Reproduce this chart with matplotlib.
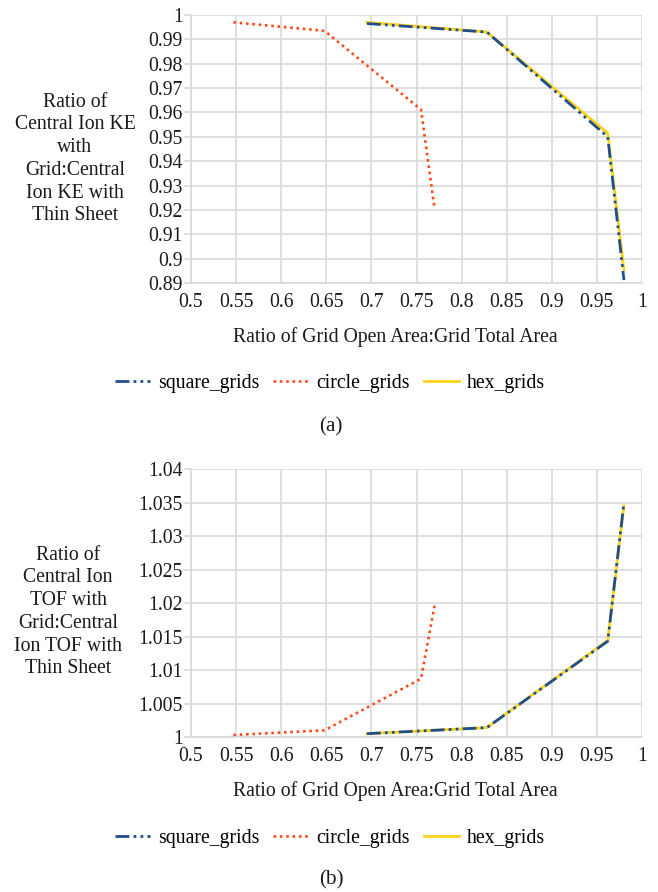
import matplotlib
matplotlib.use("Agg")
import matplotlib.pyplot as plt
from matplotlib.lines import Line2D

# ---- data ----
square_x = [0.695, 0.828, 0.962, 0.980]
hex_x = [0.695, 0.828, 0.962, 0.980]
circle_x = [0.547, 0.648, 0.755, 0.770]

ke_square = [0.9965, 0.9930, 0.9500, 0.8912]
ke_hex = [0.9970, 0.9930, 0.9515, 0.8953]
ke_circle = [0.9970, 0.9935, 0.9612, 0.9206]

tof_square = [1.0005, 1.0014, 1.0143, 1.0350]
tof_hex = [1.0005, 1.0014, 1.0144, 1.0345]
tof_circle = [1.0003, 1.0010, 1.0087, 1.0196]

x_ticks = [0.5, 0.55, 0.6, 0.65, 0.7, 0.75, 0.8, 0.85, 0.9, 0.95, 1]
x_tick_labels = ["0.5", "0.55", "0.6", "0.65", "0.7", "0.75", "0.8", "0.85", "0.9", "0.95", "1"]
ke_ticks = [0.89, 0.9, 0.91, 0.92, 0.93, 0.94, 0.95, 0.96, 0.97, 0.98, 0.99, 1]
ke_tick_labels = ["0.89", "0.9", "0.91", "0.92", "0.93", "0.94", "0.95", "0.96", "0.97", "0.98", "0.99", "1"]
tof_ticks = [1, 1.005, 1.01, 1.015, 1.02, 1.025, 1.03, 1.035, 1.04]
tof_tick_labels = ["1", "1.005", "1.01", "1.015", "1.02", "1.025", "1.03", "1.035", "1.04"]

series_names = ["square_grids", "circle_grids", "hex_grids"]
xlabel = "Ratio of Grid Open Area:Grid Total Area"
ylabel_a = "Ratio of\nCentral Ion KE\nwith\nGrid:Central\nIon KE with\nThin Sheet"
ylabel_b = "Ratio of\nCentral Ion\nTOF with\nGrid:Central\nIon TOF with\nThin Sheet"

# ---- style ----
plt.rcParams['font.family'] = ['Liberation Serif', 'DejaVu Serif']
FS = 14.2
W, H = 658, 892
C_SQ = "#1F4E8C"
C_CI = "#FF4A1C"
C_HX = "#FFD21A"
GRID = "#D9D9D9"
TXT = "#1a1a1a"
sq_style = dict(color=C_SQ, lw=2.0, linestyle=(0, (5, 1.5, 1, 1.5, 1, 1.5)))
ci_style = dict(color=C_CI, lw=1.9, linestyle=(0, (1, 1.4)))
hx_style = dict(color=C_HX, lw=2.0, linestyle='-')

fig = plt.figure(figsize=(W / 100, H / 100), dpi=100)


def make_ax(left, top, right, bottom):
    return fig.add_axes([left / W, 1 - bottom / H, (right - left) / W, (bottom - top) / H])


def style_ax(ax, yticks, ylabels, ylim):
    ax.set_xlim(0.5, 1)
    ax.set_ylim(*ylim)
    ax.set_xticks(x_ticks)
    ax.set_xticklabels(x_tick_labels, fontsize=FS)
    ax.set_yticks(yticks)
    ax.set_yticklabels(ylabels, fontsize=FS)
    ax.grid(True, color=GRID, lw=1.2)
    ax.set_axisbelow(True)
    for s in ['top', 'right']:
        ax.spines[s].set_visible(False)
    for s in ['left', 'bottom']:
        ax.spines[s].set_color(GRID)
        ax.spines[s].set_linewidth(1.2)
    ax.tick_params(axis='y', colors=GRID, labelcolor=TXT, length=5, width=1.2, pad=1)
    ax.tick_params(axis='x', colors=GRID, labelcolor=TXT, length=0, width=1.2, pad=7)


def draw(ax, sq, ci, hx):
    ax.plot(square_x, sq, zorder=4, **sq_style)
    ax.plot(circle_x, ci, zorder=3, **ci_style)
    ax.plot(hex_x, hx, zorder=2, **hx_style)


def legend(y):
    handles = [Line2D([], [], **sq_style), Line2D([], [], **ci_style), Line2D([], [], **hx_style)]
    fig.legend(handles, series_names, loc='center', bbox_to_anchor=(330 / W, 1 - y / H), ncol=3,
               frameon=False, fontsize=FS, handlelength=1.8, columnspacing=0.7,
               handletextpad=0.4, borderpad=0, borderaxespad=0)


# panel (a)
ax1 = make_ax(191, 15, 642, 283)
style_ax(ax1, ke_ticks, ke_tick_labels, (0.89, 1.0))
draw(ax1, ke_square, ke_circle, ke_hex)
fig.text(395 / W, 1 - 337 / H, xlabel, ha='center', va='center', fontsize=FS, color=TXT)
fig.text(75 / W, 1 - 159 / H, ylabel_a, ha='center', va='center', fontsize=FS,
         linespacing=1.27, color=TXT)
legend(383)
fig.text(331 / W, 1 - 427 / H, "(a)", ha='center', va='center', fontsize=FS + 1, color=TXT)

# panel (b)
ax2 = make_ax(191, 469, 642, 737)
style_ax(ax2, tof_ticks, tof_tick_labels, (1.0, 1.04))
draw(ax2, tof_square, tof_circle, tof_hex)
fig.text(395 / W, 1 - 791 / H, xlabel, ha='center', va='center', fontsize=FS, color=TXT)
fig.text(68 / W, 1 - 612 / H, ylabel_b, ha='center', va='center', fontsize=FS,
         linespacing=1.27, color=TXT)
legend(838)
fig.text(331 / W, 1 - 880 / H, "(b)", ha='center', va='center', fontsize=FS + 1, color=TXT)

fig.savefig("out.png", dpi=100, facecolor='white')
